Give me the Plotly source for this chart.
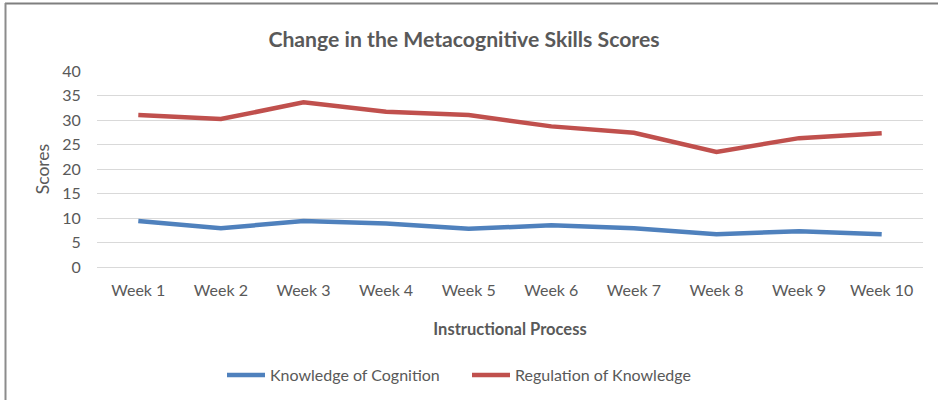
import plotly.graph_objects as go

weeks = ["Week 1", "Week 2", "Week 3", "Week 4", "Week 5",
         "Week 6", "Week 7", "Week 8", "Week 9", "Week 10"]
knowledge_of_cognition = [9.4, 7.9, 9.4, 8.9, 7.8, 8.5, 7.9, 6.7, 7.3, 6.7]
regulation_of_knowledge = [31.0, 30.2, 33.6, 31.7, 31.0, 28.7, 27.4, 23.5, 26.3, 27.3]
y_ticks = [0, 5, 10, 15, 20, 25, 30, 35, 40]

FONT = "Lato"
GRAY = "#595959"

W, H = 938, 400
ML, MR, MT, MB = 97, 15, 71, 133

fig = go.Figure()
fig.add_trace(go.Scatter(x=weeks, y=knowledge_of_cognition, mode="lines",
                         name="Knowledge of Cognition",
                         line=dict(color="#4F81BD", width=4.5)))
fig.add_trace(go.Scatter(x=weeks, y=regulation_of_knowledge, mode="lines",
                         name="Regulation of Knowledge",
                         line=dict(color="#C0504D", width=4.5)))

pw = W - ML - MR
ph = H - MT - MB
def px(x):
    return (x - ML) / pw
def py(y):
    return (H - MB - y) / ph

fig.update_layout(
    width=W, height=H,
    margin=dict(l=ML, r=MR, t=MT, b=MB, autoexpand=False),
    paper_bgcolor="white", plot_bgcolor="white",
    font=dict(family=FONT, color=GRAY, size=16),
    title=dict(text="<b>Change in the Metacognitive Skills Scores</b>",
               x=px(464), xref="paper", y=(H - 40) / H, yref="container",
               xanchor="center", yanchor="middle",
               font=dict(family=FONT, size=21.2, color=GRAY)),
    showlegend=True,
    legend=dict(orientation="h", x=px(222), xref="paper", y=py(375), yref="paper",
                xanchor="left", yanchor="middle",
                font=dict(family=FONT, size=16, color=GRAY),
                itemwidth=38, tracegroupgap=0, bgcolor="rgba(0,0,0,0)",
                entrywidth=192),
    xaxis=dict(type="category", range=[-0.5, 9.5], showgrid=False,
               showline=True, linecolor="#d9d9d9", linewidth=1,
               ticks="outside", ticklen=9, tickcolor="rgba(0,0,0,0)",
               tickfont=dict(family=FONT, size=16, color=GRAY),
               title=dict(text="<b>Instructional Process</b>", standoff=25,
                          font=dict(family=FONT, size=16.5, color=GRAY)),
               fixedrange=True),
    yaxis=dict(range=[0, 40], tickvals=y_ticks, showgrid=True,
               gridcolor="#d9d9d9", gridwidth=1, zeroline=False,
               ticks="outside", ticklen=12, tickcolor="rgba(0,0,0,0)",
               tickfont=dict(family=FONT, size=16, color=GRAY),
               title=dict(text="Scores", standoff=8,
                          font=dict(family=FONT, size=17.5, color=GRAY)),
               fixedrange=True),
    shapes=[
        dict(type="line", xref="paper", yref="paper",
             x0=px(5), x1=px(940), y0=py(3.5), y1=py(3.5),
             line=dict(color="#7f7f7f", width=2)),
        dict(type="line", xref="paper", yref="paper",
             x0=px(5.5), x1=px(5.5), y0=py(3), y1=py(402),
             line=dict(color="#8c8c8c", width=2)),
    ],
)

fig.write_html("out.html",
               config={"displayModeBar": False},
               post_script="document.body.style.margin='0';document.body.style.overflow='hidden';")
